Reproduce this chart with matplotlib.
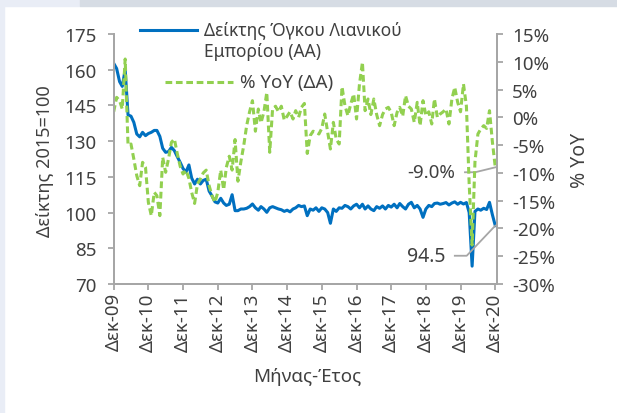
import numpy as np
import pandas as pd
import matplotlib
matplotlib.use('Agg')
import matplotlib.pyplot as plt
from matplotlib.patches import Rectangle
from matplotlib.lines import Line2D

plt.rcParams['font.family'] = ['Noto Sans', 'DejaVu Sans']

# μηνιαία δεδομένα Δεκ-09 .. Δεκ-20
months = pd.date_range('2009-12-01', periods=133, freq='MS')

index_vals = [
    162.7, 160.5, 155.0, 153.0, 160.0, 141.0, 140.5, 137.9, 133.0, 131.8, 133.7, 132.3,
    133.2, 133.7, 134.5, 134.5, 132.0, 127.0, 125.3, 125.6, 127.4, 126.0, 123.5, 121.1,
    118.5, 117.0, 120.0, 114.5, 112.0, 114.0, 112.0, 113.5, 114.0, 109.0, 107.0, 104.5,
    104.0, 106.0, 104.0, 103.0, 103.5, 107.5, 100.8, 100.8, 101.5, 101.5, 101.8, 102.5,
    103.6, 102.0, 101.0, 102.5, 101.5, 100.1, 102.0, 102.5, 102.0, 101.5, 101.2, 100.5,
    101.0, 100.3, 101.5, 102.0, 103.0, 102.5, 102.8, 98.7, 101.5, 101.0, 102.0, 100.5,
    102.0, 101.5, 100.0, 95.5, 101.5, 100.5, 102.0, 101.8, 103.0, 102.5, 101.5, 102.8,
    103.5, 102.0, 103.5, 101.5, 102.8, 101.5, 100.8, 102.5, 101.8, 102.8, 101.5, 103.0,
    102.3, 103.5, 102.0, 103.8, 102.5, 101.5, 103.5, 104.3, 102.0, 103.0, 101.5, 98.0,
    101.5, 103.0, 102.5, 103.8, 104.0, 103.5, 103.8, 104.2, 103.2, 104.0, 104.5, 103.5,
    104.3, 103.6, 104.2, 100.0, 77.5, 100.5, 101.5, 101.0, 101.8, 101.3, 104.3, 99.0, 94.5,
]

yoy_vals = [
    1.0, 3.6, 3.0, 1.5, 10.5, -5.0, -4.8, -7.5, -10.5, -12.3, -8.1, -9.0,
    -15.3, -17.7, -13.5, -14.1, -17.7, -7.2, -9.9, -7.5, -4.5, -3.9, -6.5, -8.8,
    -10.2, -9.5, -11.0, -13.5, -15.5, -12.0, -11.1, -10.0, -9.5, -12.3, -14.1, -15.3,
    -13.5, -9.5, -13.0, -9.0, -7.0, -9.5, -4.0, -11.5, -8.0, -5.0, -1.5, 1.0,
    3.0, -2.5, 1.5, -1.0, 1.0, 4.5, -6.3, 1.5, 2.0, 1.0, 2.0, -0.5,
    0.2, 1.0, -0.3, 1.2, 0.0, 1.8, 2.5, -6.5, -3.3, -2.5, -2.7, -3.0,
    -2.0, 0.6, -2.7, -5.7, -0.9, -3.9, -4.8, 5.5, 2.1, 0.3, 2.4, 4.2,
    -0.3, 6.0, 9.9, 1.2, 3.3, 0.5, 3.3, 0.5, -1.5, 0.5, 1.5, 1.8,
    0.9, -1.5, 0.9, 1.8, 0.2, 3.9, 2.0, 1.5, -0.9, 2.7, -1.5, 3.0,
    0.3, 1.0, -1.2, 3.3, 0.0, 0.6, 1.0, 1.5, -1.2, 3.3, 5.4, 2.7,
    1.0, 6.0, 2.0, -12.0, -23.0, -8.0, -3.0, -2.1, -1.5, -2.0, 1.2, -4.5, -9.0,
]

x_tick_labels = ['Δεκ-09', 'Δεκ-10', 'Δεκ-11', 'Δεκ-12', 'Δεκ-13', 'Δεκ-14',
                 'Δεκ-15', 'Δεκ-16', 'Δεκ-17', 'Δεκ-18', 'Δεκ-19', 'Δεκ-20']
left_ticks = [70, 85, 100, 115, 130, 145, 160, 175]
right_ticks = [-30, -25, -20, -15, -10, -5, 0, 5, 10, 15]
right_tick_labels = ['-30%', '-25%', '-20%', '-15%', '-10%', '-5%', '0%', '5%', '10%', '15%']

BLUE = '#0070c0'
GREEN = '#92d050'
GREY = '#a6a6a6'
TXT = '#404040'

W, H = 617, 414
fig = plt.figure(figsize=(W / 100, H / 100), dpi=100)
fig.patch.set_facecolor('white')

def px(x, y):
    # pixel (από πάνω αριστερά) -> figure fraction
    return x / W, 1 - y / H

# φόντο πλαισίου
fig.add_artist(Rectangle((0, 0), 4 / W, 1, transform=fig.transFigure, color='#e9edf6', zorder=0))
fig.add_artist(Rectangle(px(0, 7), 80 / W, 7 / H, transform=fig.transFigure, color='#e9edf6', zorder=0))
fig.add_artist(Rectangle(px(80, 7), (W - 80) / W, 7 / H, transform=fig.transFigure, color='#d6dce4', zorder=0))

ax = fig.add_axes([113.5 / W, 1 - 285 / H, (497 - 113.5) / W, 250 / H])
ax.set_facecolor('none')
ax2 = ax.twinx()

ax.plot(months, index_vals, color=BLUE, lw=2.2, solid_joinstyle='round')
ax2.plot(months, yoy_vals, color=GREEN, lw=2.2, dashes=(2.2, 1.2))

ax.set_ylim(70, 175)
ax.set_yticks(left_ticks)
ax2.set_ylim(-30, 15)
ax2.set_yticks(right_ticks)
ax2.set_yticklabels(right_tick_labels)

dec_ticks = months[::12]
ax.set_xticks(dec_ticks)
ax.set_xticklabels(x_tick_labels, rotation=90)
ax.set_xlim(months[0] - pd.Timedelta(days=2), months[-1] + pd.Timedelta(days=18))

for a in (ax, ax2):
    for s in a.spines.values():
        s.set_color(GREY)
        s.set_linewidth(1.3)
    a.spines['top'].set_visible(False)
    a.tick_params(colors=GREY, labelcolor=TXT, labelsize=13.5, length=4, width=1.3)
ax.tick_params(axis='y', pad=8)
ax.tick_params(axis='x', pad=2)
ax2.tick_params(axis='y', pad=7)

ax.set_xlabel('Μήνας-Έτος', fontsize=13.5, color=TXT, va='center')
ax.xaxis.set_label_coords(0.5046, -0.368)
ax.set_ylabel('Δείκτης 2015=100', fontsize=13, color=TXT, va='center')
ax.yaxis.set_label_coords(-0.1786, 0.496)
ax2.set_ylabel('% YoY', fontsize=14, color=TXT, va='center', rotation=90)
ax2.yaxis.set_label_coords(1.2164, 0.5)

# υπόμνημα
fig.add_artist(Line2D([140 / W, 197 / W], [1 - 30.7 / H] * 2, transform=fig.transFigure, color=BLUE, lw=2.2))
fig.text(204 / W, 1 - 41.5 / H, 'Δείκτης Όγκου Λιανικού\nΕμπορίου (ΑΑ)', fontsize=12.5, color=TXT,
         va='center', ha='left', linespacing=1.15)
fig.add_artist(Line2D([165 / W, 233 / W], [1 - 83.3 / H] * 2, transform=fig.transFigure, color=GREEN,
                      lw=2.2, dashes=(2.2, 1.2)))
fig.text(240 / W, 1 - 83.3 / H, '% YoY (ΔΑ)', fontsize=13.5, color=TXT, va='center', ha='left')

# ετικέτες τελευταίας τιμής
def to_axes(a, x, y):
    return ax.transAxes.inverted().transform(a.transData.transform((matplotlib.dates.date2num(x), y)))

end_yoy = to_axes(ax2, months[-1], yoy_vals[-1])
ax.text(0.8905, 0.448, f'{yoy_vals[-1]:.1f}%', transform=ax.transAxes, ha='right', va='center',
        fontsize=13.5, color=TXT)
ax.plot([0.9165, 0.943, end_yoy[0]], [0.447, 0.447, end_yoy[1]], transform=ax.transAxes,
        color=GREY, lw=1.3, clip_on=False)

end_idx = to_axes(ax, months[-1], index_vals[-1])
ax.text(0.867, 0.113, f'{index_vals[-1]:.1f}', transform=ax.transAxes, ha='right', va='center',
        fontsize=14, color=TXT)
ax.plot([0.890, 0.921, end_idx[0]], [0.113, 0.113, end_idx[1]], transform=ax.transAxes,
        color=GREY, lw=1.3, clip_on=False)

fig.savefig('out.png', dpi=100)
